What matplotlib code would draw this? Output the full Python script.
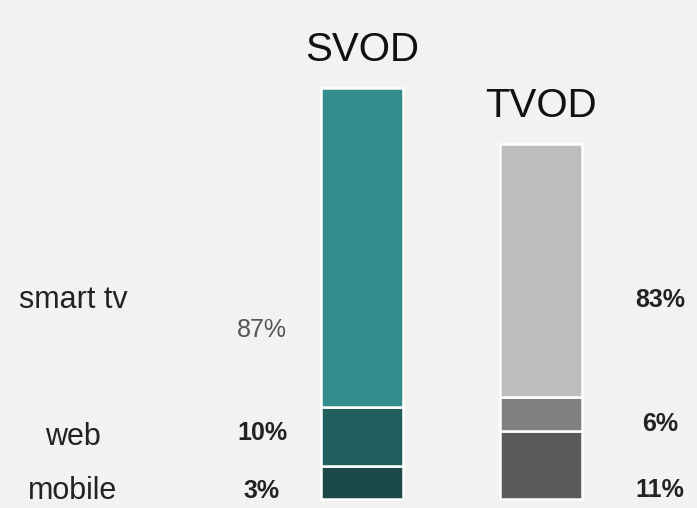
import matplotlib
matplotlib.use("Agg")
import matplotlib.pyplot as plt
import numpy as np

plt.rcParams['font.family'] = ['Liberation Sans', 'DejaVu Sans']

# --- data ---
services = ["SVOD", "TVOD"]
devices = ["mobile", "web", "smart tv"]            # bottom -> top
# drawn segment heights (arbitrary units)
svod_heights = [33, 59, 319]
tvod_heights = [68, 34, 253]
# printed labels
svod_labels = ["3%", "10%", "87%"]
tvod_labels = ["11%", "6%", "83%"]

svod_colors = ["#1c4a4a", "#215f5f", "#338b8b"]
tvod_colors = ["#5a5a5a", "#808080", "#bdbdbd"]

W, H = 697, 508
fig = plt.figure(figsize=(W / 100, H / 100), dpi=100)
fig.patch.set_facecolor("#f2f2f1")
ax = fig.add_axes([0, 0, 1, 1])
ax.set_facecolor("#f2f2f1")
ax.axis("off")

# axis scales chosen so the bars land where they are in the reference
unit = 178.5
ax.set_xlim(-362 / unit, (W - 362) / unit)
ax.set_ylim(-9, H - 9)

xpos = np.arange(len(services))
width = 82 / unit
for i, (heights, cols) in enumerate([(svod_heights, svod_colors), (tvod_heights, tvod_colors)]):
    bottom = 0
    for h, c in zip(heights, cols):
        ax.bar(xpos[i], h, width=width, bottom=bottom, color=c,
               edgecolor="white", linewidth=1.8)
        bottom += h

# titles above bars
for i, heights in enumerate([svod_heights, tvod_heights]):
    ax.annotate(services[i], (xpos[i], sum(heights)), xytext=(0, 38),
                textcoords="offset pixels", ha="center", va="center",
                fontsize=29, color="#111111")

def fy(px_from_top):
    return 1 - px_from_top / H

# device labels on the left
dev_y = {"smart tv": 300, "web": 437, "mobile": 491}
for d in devices:
    fig.text(73 / W, fy(dev_y[d]), d, ha="center", va="center",
             fontsize=22, color="#222222")

# percentage labels
svod_y = [491, 433, 330]
tvod_y = [490, 424, 300]
for lab, y in zip(svod_labels, svod_y):
    bold = lab != "87%"
    fig.text(262 / W, fy(y), lab, ha="center", va="center", fontsize=18,
             fontweight="bold" if bold else "normal",
             color="#222222" if bold else "#555555")
for lab, y in zip(tvod_labels, tvod_y):
    fig.text(660 / W, fy(y), lab, ha="center", va="center", fontsize=18,
             fontweight="bold", color="#222222")

fig.savefig("out.png", dpi=100, facecolor=fig.get_facecolor())
